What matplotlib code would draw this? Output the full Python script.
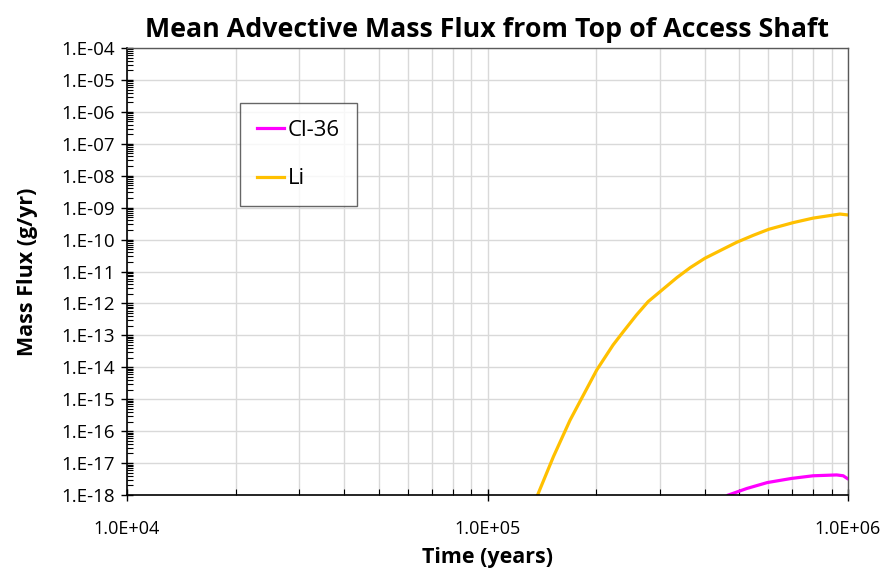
import numpy as np
import matplotlib.pyplot as plt
from matplotlib.ticker import FuncFormatter, LogLocator, NullFormatter

plt.rcParams['font.family'] = ['Open Sans', 'DejaVu Sans']

# Data (time in years, flux in g/yr)
li_time = [1.377e5, 1.524e5, 1.694e5, 1.845e5, 2.01e5, 2.23e5, 2.38e5, 2.59e5, 2.79e5,
           3.01e5, 3.35e5, 3.65e5, 4.01e5, 4.51e5, 4.91e5, 5.46e5, 6.03e5, 7.05e5,
           8.0e5, 9.5e5, 1.0e6]
li_flux = [1e-18, 1.6e-17, 2.2e-16, 1.35e-15, 8.3e-15, 5.0e-14, 1.3e-13, 4.35e-13, 1.14e-12,
           2.33e-12, 6.4e-12, 1.32e-11, 2.6e-11, 5.07e-11, 8.2e-11, 1.36e-10, 2.1e-10, 3.4e-10,
           4.7e-10, 6.3e-10, 5.9e-10]

cl_time = [4.66e5, 5.24e5, 5.97e5, 6.97e5, 8.0e5, 9.3e5, 9.7e5, 9.95e5]
cl_flux = [1e-18, 1.6e-18, 2.45e-18, 3.3e-18, 4.0e-18, 4.25e-18, 4.0e-18, 3.3e-18]

fig = plt.figure(figsize=(8.84, 5.69), dpi=100)
ax = fig.add_axes([127 / 884, 1 - 495 / 569, (848 - 127) / 884, (495 - 48) / 569])

ax.plot(cl_time, cl_flux, color='#ff00ff', lw=2.3, label='Cl-36')
ax.plot(li_time, li_flux, color='#ffc000', lw=2.3, label='Li')

ax.set_xscale('log')
ax.set_yscale('log')
ax.set_xlim(1e4, 1e6)
ax.set_ylim(1e-18, 1e-4)

ax.xaxis.set_major_locator(LogLocator(base=10, numticks=10))
ax.xaxis.set_minor_locator(LogLocator(base=10, subs=np.arange(2, 10), numticks=20))
ax.yaxis.set_major_locator(LogLocator(base=10, numticks=20))
ax.yaxis.set_minor_locator(LogLocator(base=10, subs=np.arange(2, 10), numticks=200))
ax.xaxis.set_minor_formatter(NullFormatter())
ax.yaxis.set_minor_formatter(NullFormatter())

ax.xaxis.set_major_formatter(FuncFormatter(lambda v, p: '%.1E' % v))
ax.yaxis.set_major_formatter(FuncFormatter(lambda v, p: '1.E%+03d' % int(round(np.log10(v)))))

ax.grid(True, which='major', color='#d9d9d9', lw=1)
ax.grid(True, which='minor', axis='x', color='#d9d9d9', lw=1)
ax.set_axisbelow(True)

ax.tick_params(which='major', direction='inout', length=8, width=1, labelsize=13.5)
ax.tick_params(axis='y', which='major', pad=5)
ax.tick_params(axis='x', which='major', pad=14, labelsize=13)
ax.tick_params(which='minor', direction='in', length=4, width=0.8)

for s in ['left', 'bottom']:
    ax.spines[s].set_color('black')
    ax.spines[s].set_linewidth(1.2)
for s in ['top', 'right']:
    ax.spines[s].set_color('#595959')
    ax.spines[s].set_linewidth(1)

ax.set_title('Mean Advective Mass Flux from Top of Access Shaft',
             fontsize=19.3, fontweight='bold', pad=8)
ax.set_xlabel('Time (years)', fontsize=15.5, fontweight='bold')
ax.set_ylabel('Mass Flux (g/yr)', fontsize=15.5, fontweight='bold')
ax.xaxis.set_label_coords(0.5, -0.117)
ax.yaxis.set_label_coords(-0.124, 0.5)

leg = ax.legend(loc='upper left', bbox_to_anchor=((240 - 127) / 721, (495 - 103) / 447),
                fontsize=16, frameon=True, fancybox=False, edgecolor='#404040',
                handlelength=1.25, handletextpad=0.15, labelspacing=1.25,
                borderpad=0.75, borderaxespad=0)
leg.get_frame().set_linewidth(1)

fig.savefig('out.png', dpi=100)
